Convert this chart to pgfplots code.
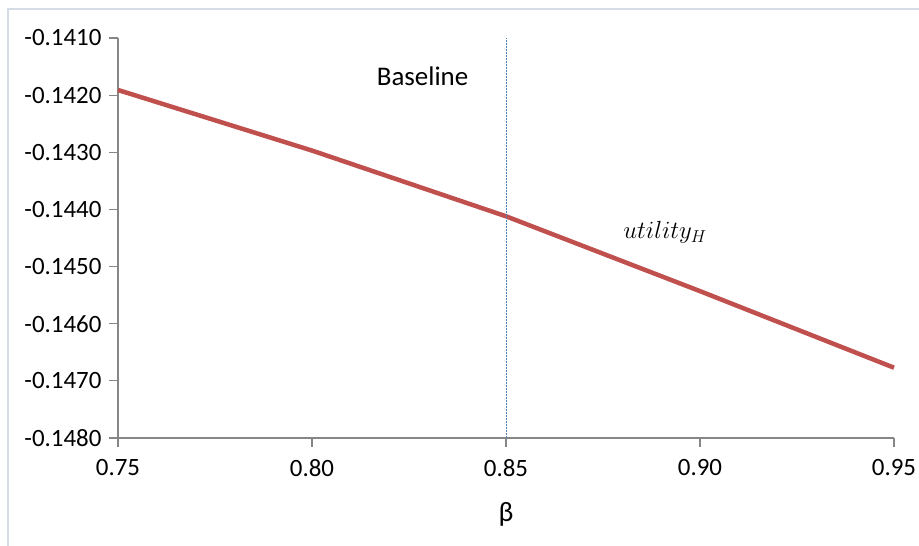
\documentclass[border=0pt]{standalone}
\usepackage{pgfplots}
\pgfplotsset{compat=1.18}
\usepackage{fontspec}
\setmainfont{Carlito}
\definecolor{exred}{RGB}{192,80,77}
\definecolor{exblue}{RGB}{79,129,189}
\definecolor{axgray}{RGB}{134,134,134}
\definecolor{framec}{RGB}{214,220,230}
\begin{document}
\begin{tikzpicture}[x=1bp,y=1bp]
\useasboundingbox (0,0) rectangle (919,546);
\draw[framec,line width=1.5bp] (8,0) -- (8,537) -- (919,537);
\begin{axis}[
  at={(118bp,108bp)}, anchor=south west,
  scale only axis, width=776bp, height=400bp,
  xmin=0.75, xmax=0.95, ymin=-0.1480, ymax=-0.1410,
  axis x line*=bottom, axis y line*=left,
  axis line style={axgray, line width=1.2bp, -},
  xtick={0.75,0.80,0.85,0.90,0.95},
  ytick={-0.1480,-0.1470,-0.1460,-0.1450,-0.1440,-0.1430,-0.1420,-0.1410},
  tick style={axgray, line width=1.2bp},
  tick align=outside, major tick length=9bp,
  xticklabel style={/pgf/number format/fixed, /pgf/number format/fixed zerofill, /pgf/number format/precision=2, yshift=-9bp},
  yticklabel style={/pgf/number format/fixed, /pgf/number format/fixed zerofill, /pgf/number format/precision=4, xshift=-4bp},
  /pgf/number format/assume math mode=true,
  ticklabel style={font=\fontsize{25}{29}\selectfont, text=black},
  scaled y ticks=false, scaled x ticks=false,
  xlabel={β}, xlabel style={font=\fontsize{28}{32}\selectfont, yshift=-19bp},
  clip=false,
]
\addplot[exred, line width=4.5bp] coordinates {
  (0.75,-0.14191) (0.80,-0.14297) (0.85,-0.14412) (0.90,-0.14543) (0.95,-0.14677)
};
\addplot[exblue, line width=1bp, dash pattern=on 2bp off 1bp] coordinates {(0.85,-0.1480) (0.85,-0.1410)};
\node[font=\fontsize{27}{31}\selectfont] at (axis cs:0.8285,-0.14167) {Baseline};
\node[font=\fontsize{23}{27}\selectfont] at (axis cs:0.891,-0.14440) {$utility_H$};
\end{axis}
\end{tikzpicture}
\end{document}
